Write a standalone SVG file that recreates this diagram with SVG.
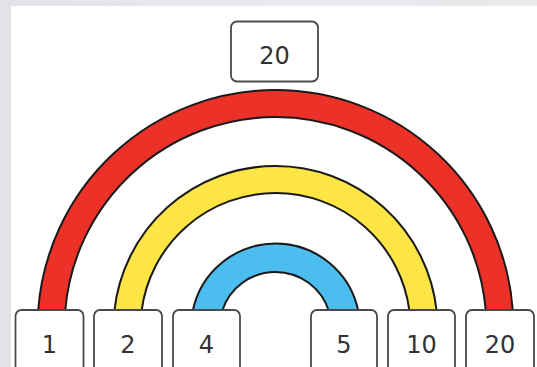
<svg xmlns="http://www.w3.org/2000/svg" width="537" height="367" viewBox="0 0 537 367">
<defs>
<style>
.box{fill:#fff;stroke:#4a4a4a;stroke-width:1.8}
.lbl{font-family:"DejaVu Sans",sans-serif;font-size:24px;fill:#333;text-anchor:middle}
.edge{fill:none;stroke:#1a1a1a;stroke-width:2}
</style>
<linearGradient id="bg" x1="0" y1="0" x2="1" y2="0">
<stop offset="0" stop-color="#e4e2e8"/>
<stop offset="0.5" stop-color="#ebe8f0"/>
<stop offset="1" stop-color="#ece9ec"/>
</linearGradient>
</defs>
<rect x="0" y="0" width="537" height="367" fill="url(#bg)"/>
<rect x="11" y="6" width="526" height="361" fill="#fff"/>
<g id="connectors">
<g id="red-arc">
<path d="M38.11,311 A238,238 0 0 1 512.89,311 L485.81,311 A211,211 0 0 0 65.19,311 Z" fill="#ec3228"/>
<path class="edge" d="M38.11,311 A238,238 0 0 1 512.89,311"/>
<path class="edge" d="M65.19,311 A211,211 0 0 1 485.81,311"/>
</g>
<g id="yellow-arc">
<path d="M114.39,311 A162,162 0 0 1 436.61,311 L409.42,311 A135,135 0 0 0 141.58,311 Z" fill="#fde545"/>
<path class="edge" d="M114.39,311 A162,162 0 0 1 436.61,311"/>
<path class="edge" d="M141.58,311 A135,135 0 0 1 409.42,311"/>
</g>
<g id="blue-arc">
<path d="M192.73,311 A84.5,84.5 0 0 1 358.27,311 L328.86,311 A56,56 0 0 0 222.14,311 Z" fill="#4bbdee"/>
<path class="edge" d="M192.73,311 A84.5,84.5 0 0 1 358.27,311"/>
<path class="edge" d="M222.14,311 A56,56 0 0 1 328.86,311"/>
</g>
</g>
<g id="top-20"><rect class="box" x="231" y="21.5" width="87" height="60" rx="6"/><text class="lbl" x="274.5" y="64">20</text></g>
<g id="n1"><rect class="box" x="15.5" y="310" width="68" height="66" rx="6"/><text class="lbl" x="49.5" y="353">1</text></g>
<g id="n2"><rect class="box" x="94" y="310" width="68" height="66" rx="6"/><text class="lbl" x="128" y="353">2</text></g>
<g id="n4"><rect class="box" x="173" y="310" width="67" height="66" rx="6"/><text class="lbl" x="206.5" y="353">4</text></g>
<g id="n5"><rect class="box" x="311" y="310" width="66" height="66" rx="6"/><text class="lbl" x="344" y="353">5</text></g>
<g id="n10"><rect class="box" x="388" y="310" width="67" height="66" rx="6"/><text class="lbl" x="421.5" y="353">10</text></g>
<g id="n20"><rect class="box" x="466" y="310" width="68" height="66" rx="6"/><text class="lbl" x="500" y="353">20</text></g>
</svg>
